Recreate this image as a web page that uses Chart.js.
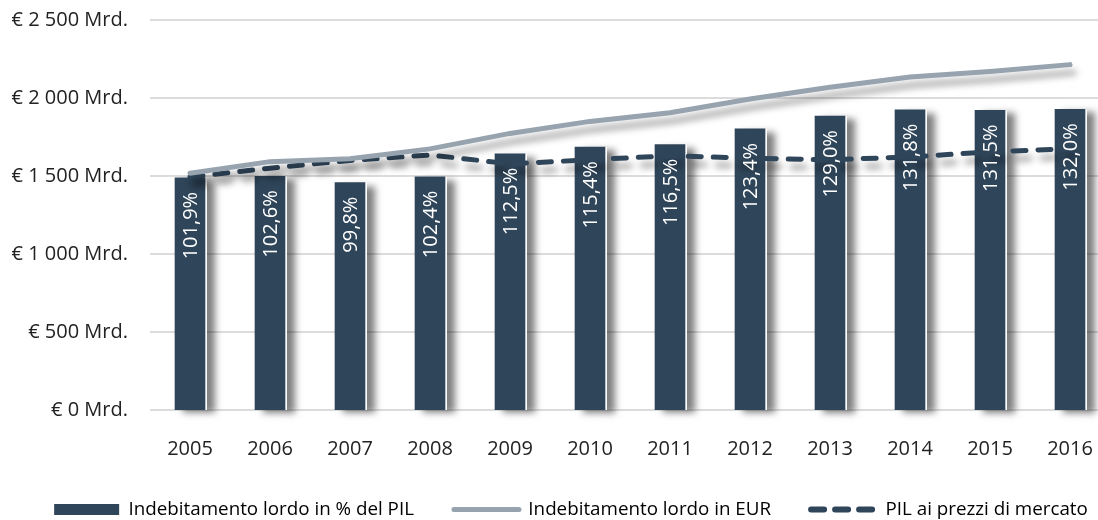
<!DOCTYPE html>
<html>
<head>
<meta charset="utf-8">
<script src="https://cdn.jsdelivr.net/npm/chart.js@4.4.1/dist/chart.umd.min.js"></script>
<style>
html, body { margin: 0; padding: 0; background: #fff; overflow: hidden; }
canvas { display: block; }
</style>
</head>
<body>
<canvas id="chart" width="1134" height="529"></canvas>
<script>
const years = ['2005', '2006', '2007', '2008', '2009', '2010', '2011', '2012', '2013', '2014', '2015', '2016']
const debtPct = [101.9, 102.6, 99.8, 102.4, 112.5, 115.4, 116.5, 123.4, 129.0, 131.8, 131.5, 132.0]
const debtEur = [1518, 1592, 1610, 1674, 1773, 1850, 1905, 1993, 2069, 2134, 2170, 2214]
const gdp = [1494, 1550, 1600, 1635, 1578, 1604, 1630, 1614, 1604, 1622, 1655, 1675]
const legendNames = ['Indebitamento lordo in % del PIL', 'Indebitamento lordo in EUR', 'PIL ai prezzi di mercato']

const navy = '#2f4559'
const grey = '#97a3ae'
const font = "'Open Sans', sans-serif"

const fmtEur = (v) => {
    const s = v >= 1000 ? Math.floor(v / 1000) + ' ' + String(v % 1000).padStart(3, '0') : String(v)
    return '€ ' + s + ' Mrd.'
}
const fmtPct = (v) => v.toFixed(1).replace('.', ',') + '%'

// shadows: bars get a white strip + soft shadow to the right, lines a shadow below
const shadowPlugin = {
    id: 'shadow',
    beforeDatasetDraw(chart, args) {
        const ctx = chart.ctx
        const ds = chart.data.datasets[args.index]
        ctx.save()
        if (ds.type === 'bar') {
            ctx.save()
            ctx.shadowColor = 'rgba(0,0,0,0.5)'
            ctx.shadowBlur = 7
            ctx.shadowOffsetX = 8
            ctx.shadowOffsetY = 3
            ctx.fillStyle = '#fff'
            args.meta.data.forEach(el => {
                const {x, y, base, width} = el.getProps(['x', 'y', 'base', 'width'], true)
                ctx.fillRect(x - width / 2, y, width + 2, base - y)
            })
            ctx.restore()
        } else {
            ctx.shadowColor = 'rgba(0,0,0,0.38)'
            ctx.shadowBlur = 7
            ctx.shadowOffsetX = 4
            ctx.shadowOffsetY = 8
        }
    },
    afterDatasetDraw(chart) {
        chart.ctx.restore()
    }
}

const barLabels = {
    id: 'barLabels',
    afterDatasetsDraw(chart) {
        const ctx = chart.ctx
        const meta = chart.getDatasetMeta(0)
        ctx.save()
        ctx.fillStyle = '#fff'
        ctx.font = '20px ' + font
        ctx.textAlign = 'right'
        ctx.textBaseline = 'middle'
        meta.data.forEach((el, i) => {
            ctx.save()
            ctx.translate(el.x + 1, el.y + 14)
            ctx.rotate(-Math.PI / 2)
            ctx.fillText(fmtPct(debtPct[i]), 0, 0)
            ctx.restore()
        })
        ctx.restore()
    }
}

new Chart(document.getElementById('chart'), {
    data: {
        labels: years,
        datasets: [{
            type: 'bar',
            label: legendNames[0],
            data: debtPct,
            yAxisID: 'y2',
            backgroundColor: navy,
            barThickness: 30,
            order: 3
        }, {
            type: 'line',
            label: legendNames[1],
            data: debtEur,
            borderColor: grey,
            borderWidth: 5,
            borderCapStyle: 'round',
            pointRadius: 0,
            tension: 0,
            fill: false,
            order: 1
        }, {
            type: 'line',
            label: legendNames[2],
            data: gdp,
            borderColor: navy,
            borderWidth: 5,
            borderDash: [13, 12],
            borderCapStyle: 'round',
            pointRadius: 0,
            tension: 0,
            fill: false,
            order: 2
        }]
    },
    options: {
        responsive: false,
        animation: false,
        layout: { padding: { top: 20, right: 0, left: 8, bottom: 0 } },
        plugins: {
            tooltip: { enabled: false },
            legend: {
                position: 'bottom',
                labels: {
                    usePointStyle: true,
                    pointStyleWidth: 65,
                    boxHeight: 11,
                    padding: 40,
                    color: '#222',
                    font: { family: font, size: 18.8 },
                    generateLabels: () => [
                        { text: legendNames[0], pointStyle: 'rect', fillStyle: navy, strokeStyle: navy, lineWidth: 0, rotation: 0, datasetIndex: 0, hidden: false },
                        { text: legendNames[1], pointStyle: 'line', fillStyle: 'rgba(0,0,0,0)', strokeStyle: grey, lineWidth: 5, lineCap: 'round', rotation: 0, datasetIndex: 1, hidden: false },
                        { text: legendNames[2], pointStyle: 'line', fillStyle: 'rgba(0,0,0,0)', strokeStyle: navy, lineWidth: 6, lineCap: 'round', lineDash: [13, 11], rotation: 0, datasetIndex: 2, hidden: false }
                    ]
                }
            }
        },
        scales: {
            x: {
                grid: { display: false },
                border: { display: false },
                ticks: { color: '#222', padding: 19, font: { family: font, size: 20 } },
                afterFit: (scale) => { scale.height = 50.2 }
            },
            y: {
                min: 0,
                max: 2500,
                grid: { color: '#dcdcdc', lineWidth: 2, drawTicks: false },
                border: { display: false },
                ticks: { stepSize: 500, padding: 22, color: '#222', font: { family: font, size: 20 }, callback: fmtEur },
                afterFit: (scale) => {
                    scale.width = 142
                    scale.paddingTop = 0
                    scale.paddingBottom = 0
                }
            },
            y2: {
                position: 'right',
                min: 0,
                max: 171.2,
                grid: { display: false, drawTicks: false },
                border: { display: false },
                ticks: { display: false },
                afterFit: (scale) => { scale.width = 24 }
            }
        }
    },
    plugins: [shadowPlugin, barLabels]
})
</script>
</body>
</html>
